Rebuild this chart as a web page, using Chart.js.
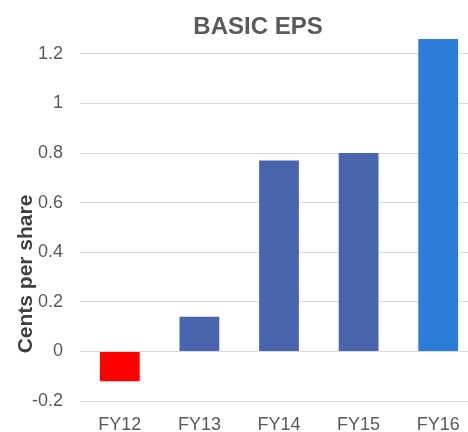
<!DOCTYPE html>
<html>
<head>
<meta charset="utf-8">
<script src="https://cdn.jsdelivr.net/npm/chart.js@4"></script>
<style>
    body { margin: 0; overflow: hidden; background: #fff; }
</style>
</head>
<body>
<canvas id="epsChart" width="478" height="432"></canvas>
<script>
// values
const years = ['FY12', 'FY13', 'FY14', 'FY15', 'FY16'];
const basicEps = [-0.12, 0.14, 0.77, 0.80, 1.26];
const barColors = ['#ff0000', '#4965ad', '#4965ad', '#4965ad', '#2b7dd9'];
const yTicks = [-0.2, 0, 0.2, 0.4, 0.6, 0.8, 1, 1.2];

const chartTitle = 'BASIC EPS';
const yTitle = 'Cents per share';

// title + axis title drawn by hand so they sit where the original has them
const textPlugin = {
    id: 'texts',
    afterDraw(chart) {
        const ctx = chart.ctx;
        ctx.save();
        ctx.textAlign = 'center';
        ctx.textBaseline = 'middle';
        ctx.fillStyle = '#595959';
        ctx.font = 'bold 24px "Liberation Sans", Arial, sans-serif';
        ctx.fillText(chartTitle, 258, 27);

        ctx.translate(26, 274);
        ctx.rotate(-Math.PI / 2);
        ctx.fillStyle = '#404040';
        ctx.font = 'bold 21px "Liberation Sans", Arial, sans-serif';
        ctx.fillText(yTitle, 0, 0);
        ctx.restore();
    }
};

const ctx1 = document.getElementById('epsChart').getContext('2d');
const epsChart = new Chart(ctx1, {
    type: 'bar',
    data: {
        labels: years,
        datasets: [{
            label: 'Basic EPS',
            data: basicEps,
            backgroundColor: barColors,
            borderWidth: 0,
            categoryPercentage: 1,
            barPercentage: 0.5
        }]
    },
    options: {
        responsive: false,
        animation: false,
        layout: {
            padding: { top: 39, left: 0, right: 0, bottom: 0 }
        },
        plugins: {
            legend: { display: false },
            title: { display: false },
            tooltip: { enabled: false }
        },
        scales: {
            x: {
                grid: { display: false, drawTicks: false },
                border: { display: false },
                ticks: {
                    color: '#595959',
                    font: { family: '"Liberation Sans", Arial, sans-serif', size: 18 },
                    padding: 13
                },
                afterFit(scale) { scale.height = 31; }
            },
            y: {
                min: -0.2,
                max: 1.26,
                grid: { color: '#d9d9d9', lineWidth: 1, drawTicks: false },
                border: { display: false },
                ticks: {
                    stepSize: 0.2,
                    color: '#595959',
                    font: { family: '"Liberation Sans", Arial, sans-serif', size: 18 },
                    padding: 17,
                    callback: v => String(Math.round(v * 10) / 10)
                },
                afterBuildTicks(scale) {
                    scale.ticks = yTicks.map(v => ({ value: v }));
                },
                afterFit(scale) { scale.width = 80; }
            }
        }
    },
    plugins: [textPlugin]
});
</script>
</body>
</html>
